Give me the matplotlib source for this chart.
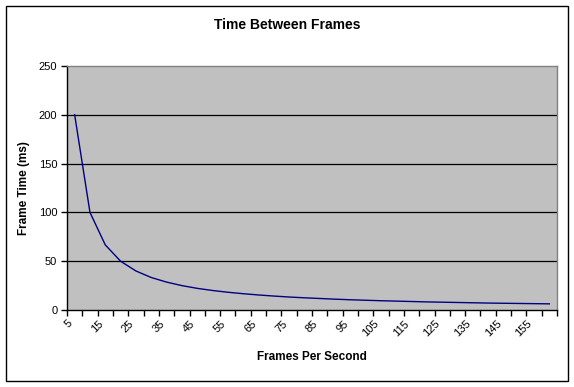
import matplotlib
matplotlib.use("Agg")
import matplotlib.pyplot as plt
from matplotlib.patches import Rectangle
import numpy as np

plt.rcParams["font.family"] = ["Liberation Sans", "DejaVu Sans"]

# frames per second (categories) and frame time
fps = [5, 10, 15, 20, 25, 30, 35, 40, 45, 50, 55, 60, 65, 70, 75, 80,
       85, 90, 95, 100, 105, 110, 115, 120, 125, 130, 135, 140, 145, 150, 155, 160]
frame_ms = [200, 100, 66.7, 50, 40, 33.3, 28.6, 25, 22.2, 20, 18.2, 16.7,
            15.4, 14.3, 13.3, 12.5, 11.8, 11.1, 10.5, 10, 9.5, 9.1, 8.7, 8.3,
            8, 7.7, 7.4, 7.1, 6.9, 6.7, 6.5, 6.3]
y_ticks = [0, 50, 100, 150, 200, 250]

fig = plt.figure(figsize=(5.74, 3.87), dpi=100)
fig.patch.set_facecolor("white")
fig.patches.append(Rectangle((6 / 574, 6 / 387), 562 / 574, 375 / 387,
                             transform=fig.transFigure, fill=False,
                             edgecolor="black", linewidth=1.0))

ax = fig.add_axes([67 / 574, 1 - 310 / 387, 490 / 574, 244 / 387])
ax.set_facecolor("#C0C0C0")

x = np.arange(len(fps))
ax.plot(x, frame_ms, color="#000080", linewidth=1.0, zorder=3)

ax.set_xlim(-0.5, len(fps) - 0.5)
ax.set_ylim(0, 250)

for v in y_ticks[1:-1]:
    ax.axhline(v, color="black", linewidth=0.9, zorder=2)

# spines: black axes on left/bottom, grey plot-area border elsewhere
ax.spines["left"].set_color("black")
ax.spines["bottom"].set_color("black")
ax.spines["top"].set_color("#808080")
ax.spines["right"].set_color("#808080")
for s in ax.spines.values():
    s.set_linewidth(1.0)

ax.set_yticks(y_ticks)
ax.set_yticklabels([str(v) for v in y_ticks], fontsize=8)
ax.tick_params(axis="y", direction="out", length=4, width=1, pad=3)

# category boundaries as ticks, labels every other category
ax.set_xticks(np.arange(len(fps) + 1) - 0.5)
ax.set_xticklabels([])
ax.tick_params(axis="x", which="major", direction="out", length=4, width=1)
lab_pos = x[::2]
ax.set_xticks(lab_pos, minor=True)
ax.set_xticklabels([str(fps[i]) for i in lab_pos], minor=True, fontsize=8,
                   rotation=45, ha="right", va="top")
ax.tick_params(axis="x", which="minor", length=0, pad=6)

ax.set_xlabel("Frames Per Second", fontsize=8.5, fontweight="bold", labelpad=9)
ax.set_ylabel("Frame Time (ms)", fontsize=8.5, fontweight="bold", labelpad=6)
fig.text(0.5, 1 - 25 / 387, "Time Between Frames", ha="center", va="center",
         fontsize=10, fontweight="bold")

fig.savefig("out.png", dpi=100)
